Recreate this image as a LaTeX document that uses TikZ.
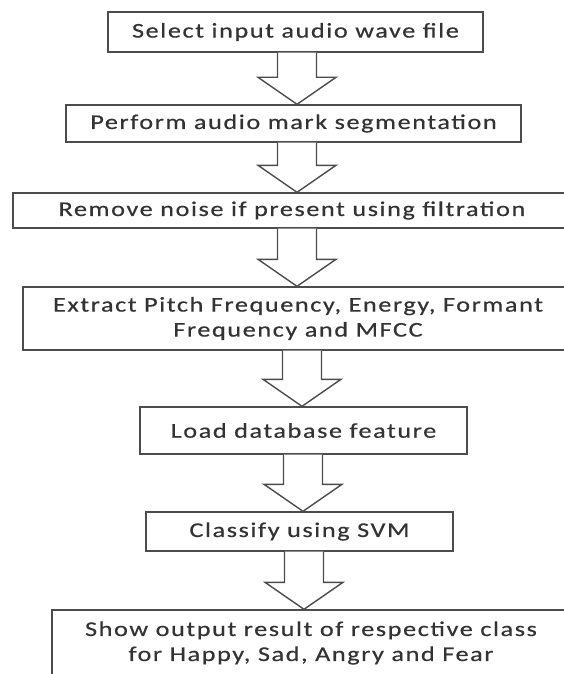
\documentclass[tikz,border=0pt]{standalone}
\usepackage{fontspec}
\setmainfont{Carlito}[FakeStretch=1.25, LetterSpace=7.5, FakeBold=0.5]
\usetikzlibrary{calc}
\tikzset{
  stepbox/.style={ draw=black!70, line width=1.4pt, text=black!80, inner sep=0pt, align=center, font=\fontsize{21}{25}\selectfont }
}
\tikzset{
  fatarrow/.style={ draw=black!70, line width=1.4pt, fill=white, line join=miter }
}
% hollow block arrow from the bottom of #1 to the top of #2, centred at x=#3
\newcommand{\blockarrow}[3]{%
  \draw[fatarrow] let \p1=(#1.south), \p2=(#2.north) in
    ({(#3-19.5)*1pt},\y1) -- ({(#3-19.5)*1pt},\y2+27pt) -- ({(#3-39)*1pt},\y2+27pt)
    -- ({#3*1pt},\y2) -- ({(#3+39)*1pt},\y2+27pt) -- ({(#3+19.5)*1pt},\y2+27pt)
    -- ({(#3+19.5)*1pt},\y1);
}

\begin{document}
\begin{tikzpicture}[x=1pt, y=-1pt]
      \useasboundingbox (0,0) rectangle (564,674);

      \node[stepbox, minimum width=375pt, minimum height=40pt] (sel) at (295.5, 32) {Select input audio wave file};
      \node[stepbox, minimum width=455pt, minimum height=37pt] (seg) at (293.5, 123.5) {Perform audio mark segmentation};
      \node[stepbox, minimum width=558pt, minimum height=35pt] (noise) at (292, 210.5) {Remove noise if present using filtration};
      \node[stepbox, minimum width=550pt, minimum height=63pt] (feat) at (298, 318.5) {Extract Pitch Frequency, Energy, Formant\\Frequency and MFCC};
      \node[stepbox, minimum width=327pt, minimum height=47pt] (load) at (303.5, 430.5) {Load database feature};
      \node[stepbox, minimum width=307pt, minimum height=39pt] (svm) at (299.5, 531.5) {Classify using SVM};
      \node[stepbox, minimum width=518pt, minimum height=66pt] (res) at (311, 643) {Show output result of respective class\\for Happy, Sad, Angry and Fear};

      \blockarrow{sel}{seg}{297}
      \blockarrow{seg}{noise}{297}
      \blockarrow{noise}{feat}{297}
      \blockarrow{feat}{load}{302}
      \blockarrow{load}{svm}{303}
      \blockarrow{svm}{res}{304}
    \end{tikzpicture}
\end{document}
